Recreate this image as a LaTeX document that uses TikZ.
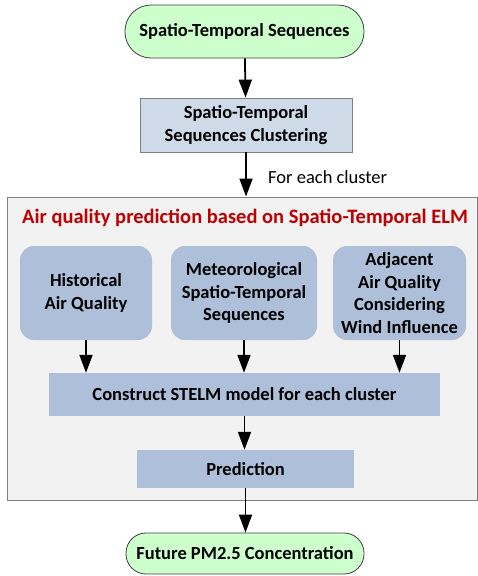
\documentclass[tikz,border=0pt]{standalone}
\usepackage{fontspec}
\setmainfont{Carlito}
\usetikzlibrary{arrows.meta}
\definecolor{pill}{HTML}{CCFFCC}
\definecolor{clus}{HTML}{CFDAE8}
\definecolor{steel}{HTML}{ADBFD9}
\definecolor{panel}{HTML}{F2F2F2}
\definecolor{edge}{HTML}{7F7F7F}
\definecolor{titlered}{HTML}{C00000}
\tikzset{
  x=1pt,y=1pt,
  bf/.style={font=\bfseries\fontsize{18.5}{22.5}\selectfont},
  pillbox/.style={draw=black!75,line width=0.8pt,fill=pill,rounded corners=26pt,minimum height=#1,inner sep=0pt,bf},
  clusbox/.style={draw=edge,line width=0.8pt,fill=clus,minimum width=212pt,minimum height=54pt,align=center,inner sep=0pt,bf},
  inbox/.style={fill=steel,rounded corners=14pt,minimum width=#1,minimum height=94pt,align=center,inner sep=0pt,bf},
  flatbox/.style={fill=steel,align=center,inner sep=0pt,bf},
  arr/.style={line width=1.8pt,-{Triangle[length=18pt,width=13pt]}}
}
\begin{document}
\begin{tikzpicture}
\useasboundingbox (0,0) rectangle (477,-576);
\node[pillbox=53pt,minimum width=239pt] (src) at (244.5,-31.5) {Spatio-Temporal Sequences};
\node[clusbox] (clus) at (246,-125) {Spatio-Temporal\\Sequences Clustering};
\node[draw=edge,line width=1pt,fill=panel,minimum width=470pt,minimum height=303pt,inner sep=0pt] (panel) at (242,-348.5) {};
\node[text=titlered,font=\bfseries\fontsize{20.5}{24}\selectfont] (title) at (245,-218) {Air quality prediction based on Spatio-Temporal ELM};
\node[inbox=132pt] (hist) at (86,-293) {Historical\\Air Quality};
\node[inbox=146pt] (met) at (244,-293) {Meteorological\\Spatio-Temporal\\Sequences};
\node[inbox=133pt] (adj) at (399.5,-293) {Adjacent\\Air Quality\\Considering\\Wind Influence};
\node[flatbox,minimum width=391pt,minimum height=43pt] (stelm) at (244.5,-394.5) {Construct STELM model for each cluster};
\node[flatbox,minimum width=217pt,minimum height=38pt] (pred) at (245.5,-469) {Prediction};
\node[pillbox=41pt,minimum width=238pt,rounded corners=20pt] (fut) at (245,-553.5) {Future PM2.5 Concentration};
\draw[arr] (src) -- (clus);
\draw[arr] (clus.south) -- (panel.north -| clus.south) node[pos=0.55,anchor=west,xshift=18pt,font=\fontsize{18.5}{22}\selectfont] (fec) {For each cluster};
\draw[arr] (hist) -- (hist |- stelm.north);
\draw[arr] (met) -- (met |- stelm.north);
\draw[arr] (adj) -- (adj |- stelm.north);
\draw[arr] (stelm) -- (stelm |- pred.north);
\draw[arr] (pred) -- (pred |- fut.north);
\end{tikzpicture}
\end{document}
